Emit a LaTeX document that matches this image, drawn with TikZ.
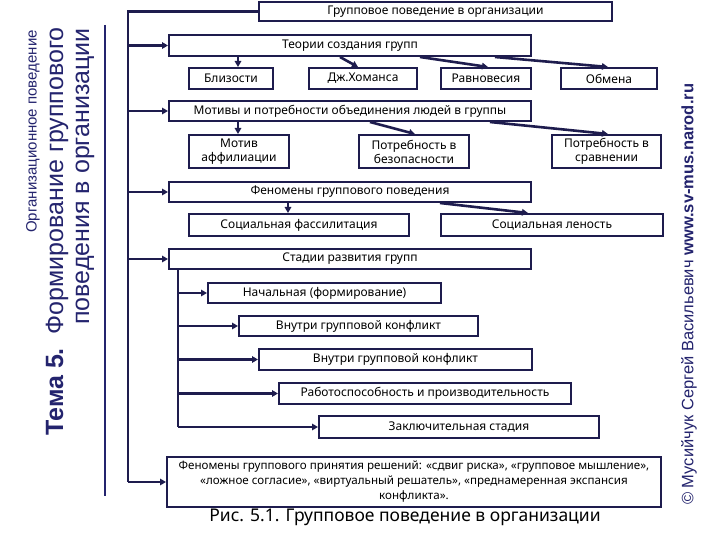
\documentclass[tikz,border=0pt]{standalone}
\usepackage{fontspec}
\setmainfont{Noto Sans}
\newfontfamily\arialf{Liberation Sans}
\usetikzlibrary{arrows.meta,calc}
\definecolor{navy}{RGB}{30,28,78}
\definecolor{ttl}{RGB}{36,36,110}
\newcommand\BX[6]{\node[box,minimum width={#4-#2},minimum height={#5-#3}] (#1) at (#2,#3) {#6};}
\begin{document}
\begin{tikzpicture}[x=1pt,y=-1pt,
  box/.style={draw=navy,line width=2pt,inner sep=1pt,anchor=north west,align=center,
    font=\fontsize{12}{14}\selectfont},
  arr/.style={draw=navy,line width=2.6pt,-{Triangle[length=6pt,width=6.5pt]}},
  ln/.style={draw=navy,line width=2.6pt},
  ttlf/.style={text=ttl,inner sep=0pt,rotate=90}]
\useasboundingbox[fill=white] (0,0) rectangle (720,540);

\BX{top}{258}{1}{611}{20}{Групповое поведение в организации}
\BX{th}{168}{34}{530}{55}{Теории создания групп}
\BX{blz}{188}{67}{272}{88}{Близости}
\BX{hom}{308}{67}{416}{88}{Дж.Хоманса}
\BX{rav}{440}{67}{530}{88}{Равновесия}
\BX{obm}{560}{67}{656}{88}{Обмена}
\BX{mot}{168}{100}{530}{120}{Мотивы и потребности объединения людей в группы}
\BX{aff}{188}{134}{288}{167}{Мотив\\аффилиации}
\BX{bez}{358}{134}{468}{167}{Потребность в\\безопасности}
\BX{srav}{551}{134}{660}{167}{Потребность в\\сравнении}
\BX{fen}{168}{181}{530}{201}{Феномены группового поведения}
\BX{fas}{188}{213}{408}{235}{Социальная фассилитация}
\BX{len}{440}{213}{662}{235}{Социальная леность}
\BX{st}{168}{248}{530}{268}{Стадии развития групп}
\BX{s1}{207}{282}{440}{302}{Начальная (формирование)}
\BX{s2}{238}{315}{477}{335}{Внутри групповой конфликт}
\BX{s3}{258}{348}{531}{369}{Внутри групповой конфликт}
\BX{s4}{278}{382}{570}{403}{Работоспособность и производительность}
\BX{s5}{318}{415}{598}{437}{Заключительная стадия}
\node[box,minimum width=494,minimum height=50,font=\fontsize{11.6}{15}\selectfont] (fin) at (166,456) {Феномены группового принятия решений: «сдвиг риска», «групповое мышление»,\\«ложное согласие», «виртуальный решатель», «преднамеренная экспансия\\конфликта».};

% main trunk
\coordinate (tk) at (128,0);
\coordinate (sk) at (178,0);
\draw[ln] (top.west) -- (top.west -| tk) -- (fin.west -| tk);
\foreach \n in {th,mot,fen,st,fin} \draw[arr] (\n.west -| tk) -- (\n.west);
% stages sub-trunk
\draw[ln] (st.south -| sk) -- (s5.west -| sk);
\foreach \n in {s1,s2,s3,s4,s5} \draw[arr] (\n.west -| sk) -- (\n.west);

% theories
\draw[arr] ([xshift=70pt]th.south west) -- ([xshift=70pt]th.south west |- blz.north);
\draw[arr] ([xshift=172pt]th.south west) -- ([xshift=50pt]hom.north west);
\draw[arr] ([xshift=252pt]th.south west) -- ([xshift=48pt]rav.north west);
\draw[arr] ([xshift=327pt]th.south west) -- ([xshift=48pt]obm.north west);
% motives
\draw[arr] ([xshift=70pt]mot.south west) -- ([xshift=70pt]mot.south west |- aff.north);
\draw[arr] ([xshift=202pt]mot.south west) -- ([xshift=57pt]bez.north west);
\draw[arr] ([xshift=322pt]mot.south west) -- ([xshift=57pt]srav.north west);
% phenomena
\draw[arr] ([xshift=120pt]fen.south west) -- ([xshift=120pt]fen.south west |- fas.north);
\draw[arr] ([xshift=272pt]fen.south west) -- ([xshift=88pt]len.north west);

% caption
\node[font=\fontsize{17.5}{20}\selectfont,inner sep=0pt,anchor=north] (cap) at (405,509) {Рис. 5.1. Групповое поведение в организации};

% left title
\node[ttlf,font=\arialf\fontsize{15}{17}\selectfont,anchor=east] (org) at (33,30) {Организационное поведение};
\node[ttlf,font=\arialf\fontsize{25}{27}\selectfont,anchor=east] (tema) at (57,27) {\textbf{Тема 5.}\hspace{14pt}Формирование группового};
\node[ttlf,font=\arialf\fontsize{25}{27}\selectfont,anchor=east] (tema2) at (85,28) {поведения в организации};
\draw[ttl,line width=1.6pt] (105,25) -- (105,496);

% right credit
\node[ttlf,font=\arialf\fontsize{16.5}{18}\selectfont,anchor=west] (cred) at (689,505) {© Мусийчук Сергей Васильевич \textbf{www.sv-mus.narod.ru}};
\end{tikzpicture}
\end{document}
